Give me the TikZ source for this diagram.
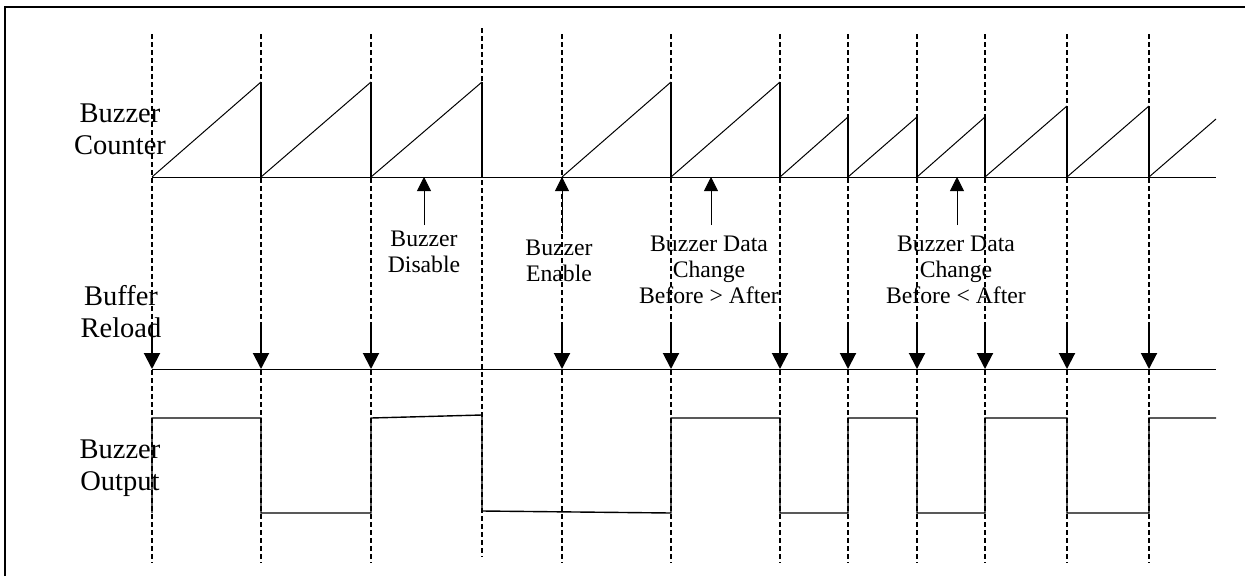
\documentclass[tikz,border=0pt]{standalone}
\usepackage{fontspec}
\setmainfont{Liberation Serif}
\usetikzlibrary{arrows.meta}

\begin{document}
\begin{tikzpicture}
[x=1pt,y=-1pt,
  labeldecorate/.style={align=center,inner sep=0pt,anchor=base,font=\fontsize{28.5}{31.5}\selectfont},%
  notedecorate/.style={align=center,inner sep=0pt,anchor=base,font=\fontsize{23.7}{26}\selectfont},%
  griddecorate/.style={line width=1.2pt,dash pattern=on 5pt off 3pt},%
  linedecorate/.style={line width=1pt},%
  resetdecorate/.style={line width=2pt},%
  wavedecorate/.style={line width=1.4pt,line join=miter},%
  reloaddecorate/.style={line width=2pt,-{Triangle[width=16pt,length=16pt]}},%
  eventdecorate/.style={line width=0.9pt,-{Triangle[width=14pt,length=14pt]}}]
\useasboundingbox (0,0) rectangle (1245,576);
%% frame
\draw[line width=2pt] (5,576) -- (5,7) -- (1245,7);
%% time marks
\foreach \nodename/\x/\top/\bot in {1/152/34/563, 2/261/34/563, 3/371/34/563,
  4/482/28/557, 5/562/34/563, 6/671/34/563, 7/780/34/563, 8/848/34/563,
  9/917/34/563, 10/985/34/563, 11/1067/34/563, 12/1149/34/563} {
  \coordinate (g\nodename) at (\x,\top);
  \coordinate (h\nodename) at (\x,\bot);
  \coordinate (c\nodename) at (\x,177);
  \coordinate (r\nodename) at (\x,369);
  \coordinate (q\nodename) at (\x,322);
  \draw[griddecorate] (g\nodename) -- (h\nodename);
}
\coordinate (cend) at (1216,177);
\coordinate (rend) at (1216,369);
%% peaks of the counter
\foreach \nodename/\x/\y in {2/261/82, 3/371/82, 4/482/82, 6/671/82, 7/780/82,
  8/848/117, 9/917/117, 10/985/117, 11/1067/106, 12/1149/106} {
  \coordinate (p\nodename) at (\x,\y);
}
\coordinate (pend) at (1216,119);
%% buzzer counter
\draw[linedecorate] (c1) -- (cend);
\foreach \startnode/\endnode in {1/2, 2/3, 3/4, 5/6, 6/7, 7/8, 8/9, 9/10, 10/11, 11/12} {
  \draw[linedecorate] (c\startnode) -- (p\endnode);
  \draw[resetdecorate] (p\endnode) -- (c\endnode);
}
\draw[linedecorate] (c12) -- (pend);
%% buffer reload
\draw[linedecorate] (r1) -- (rend);
\foreach \nodename in {1,2,3,5,6,7,8,9,10,11,12} {
  \draw[reloaddecorate] (q\nodename) -- (r\nodename);
}
%% buzzer output
\draw[wavedecorate] (152,513) -- (152,418) -- (261,418) -- (261,513) -- (371,513)
  -- (371,418) -- (482,415) -- (482,511) -- (671,513) -- (671,418) -- (780,418)
  -- (780,513) -- (848,513) -- (848,418) -- (917,418) -- (917,513) -- (985,513)
  -- (985,418) -- (1067,418) -- (1067,513) -- (1149,513) -- (1149,418) -- (1216,418);
%% events
\coordinate (disable) at (424,177);
\coordinate (enable) at (562,177);
\coordinate (down) at (711,177);
\coordinate (up) at (957,177);
\draw[eventdecorate] (424,225) -- (disable);
\draw[eventdecorate] (562,233) -- (enable);
\draw[eventdecorate] (711,225) -- (down);
\draw[eventdecorate] (957,225) -- (up);
%% labels
\node (counter) at (120,154) [labeldecorate] {Buzzer\\Counter};
\node (reload) at (121,337) [labeldecorate] {Buffer\\Reload};
\node (output) at (120,490) [labeldecorate] {Buzzer\\Output};
\node (disabletext) at (424,272) [notedecorate] {Buzzer\\Disable};
\node (enabletext) at (559,281) [notedecorate] {Buzzer\\Enable};
\node (downtext) at (709,303) [notedecorate] {Buzzer Data\\Change\\Before > After};
\node (uptext) at (956,303) [notedecorate] {Buzzer Data\\Change\\Before < After};
\end{tikzpicture}
\end{document}
